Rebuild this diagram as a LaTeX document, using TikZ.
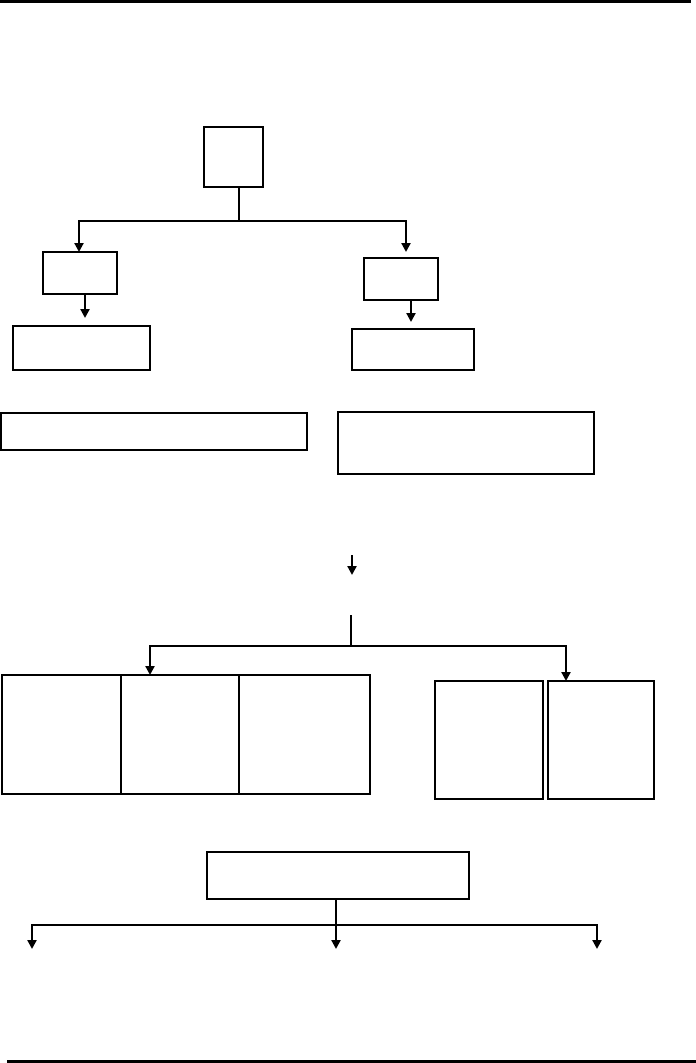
\documentclass[tikz,border=0pt]{standalone}
\usetikzlibrary{arrows.meta}
\begin{document}
\begin{tikzpicture}[x=1pt,y=-1pt,
  box/.style={draw,line width=2.2pt,inner sep=0pt,outer sep=0pt,fill=white},
  conn/.style={line width=2.2pt},
  arr/.style={conn,-{Triangle[width=9pt,length=9pt]}},
  rule/.style={line width=3pt}]
\useasboundingbox (0,0) rectangle (696,1063);
% page rules
\coordinate (r1a) at (0,1);
\coordinate (r1b) at (691,1);
\coordinate (r2a) at (7,1061);
\coordinate (r2b) at (696,1061);
\draw[rule] (r1a) -- (r1b);
\draw[rule] (r2a) -- (r2b);
% boxes
\node[box,minimum width=59pt,minimum height=60pt] (A) at (233.5,157) {};
\node[box,minimum width=74pt,minimum height=42pt] (B) at (80,273) {};
\node[box,minimum width=137pt,minimum height=44pt] (C) at (81.5,348) {};
\node[box,minimum width=74pt,minimum height=42pt] (D) at (401,279) {};
\node[box,minimum width=122pt,minimum height=41pt] (E) at (413,349.5) {};
\node[box,minimum width=306pt,minimum height=37pt] (F) at (154,431.5) {};
\node[box,minimum width=256pt,minimum height=62pt] (G) at (466,443) {};
\node[box,minimum width=119pt,minimum height=119pt] (c1) at (61.5,734.5) {};
\node[box,minimum width=118pt,minimum height=119pt] (c2) at (180,734.5) {};
\node[box,minimum width=131pt,minimum height=119pt] (c3) at (304.5,734.5) {};
\node[box,minimum width=108pt,minimum height=118pt] (P1) at (489,740) {};
\node[box,minimum width=106pt,minimum height=118pt] (P2) at (601,740) {};
\node[box,minimum width=262pt,minimum height=47pt] (H) at (338,875.5) {};
% top tree
\coordinate (jA) at (239,221);
\draw[conn] (A.south -| jA) -- (jA);
\draw[arr] (jA) -| ([xshift=-1pt]B.north);
\draw[arr] (jA) -| ([xshift=5pt,yshift=6pt]D.north);
\draw[arr,shorten >=8pt] ([xshift=5pt]B.south) -- ([xshift=5pt]B.south |- C.north);
\draw[arr,shorten >=7pt] ([xshift=10pt]D.south) -- ([xshift=10pt]D.south |- E.north);
% middle
\coordinate (la1) at (352,555);
\coordinate (la2) at (352,575);
\draw[arr] (la1) -- (la2);
\coordinate (s1) at (351,615);
\coordinate (j2) at (351,646);
\draw[conn] (s1) -- (j2);
\draw[arr] (j2) -| ([xshift=-30pt]c2.north);
\draw[arr] (j2) -| ([xshift=-35pt]P2.north);
% bottom
\coordinate (j3) at (336,925);
\coordinate (q1) at (32,949);
\coordinate (q2) at (336,949);
\coordinate (q3) at (597,949);
\draw[conn] (H.south -| j3) -- (j3);
\draw[arr] (j3) -| (q1);
\draw[arr] (j3) -- (q2);
\draw[arr] (j3) -| (q3);
\end{tikzpicture}
\end{document}
